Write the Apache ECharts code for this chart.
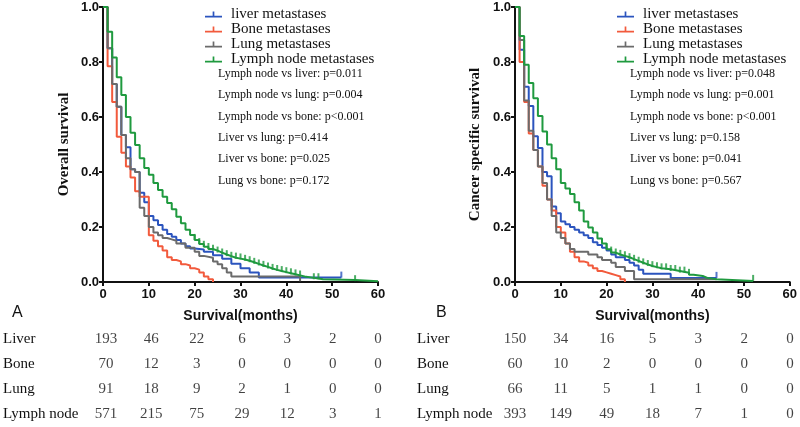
<!DOCTYPE html>
<html lang="en">
<head>
<meta charset="utf-8">
<title>Kaplan-Meier</title>
<script src="https://cdn.jsdelivr.net/npm/echarts@6/dist/echarts.min.js"></script>
<style>
    html, body { margin: 0; padding: 0; background: #fff; }
    #chart { width: 800px; height: 427px; }
</style>
</head>
<body>
<div id="chart"></div>
<script type="text/javascript">
// survival curves, [month, survival]
var osLiver = [[0,1],[1,0.85],[2,0.72],[3,0.637],[4,0.535],[5,0.49],[6,0.41],[7,0.40],[8,0.325],[9,0.29],[10,0.24],[11,0.225],[12,0.207],[13,0.19],[14,0.175],[15,0.165],[16,0.153],[17,0.14],[18,0.13],[19,0.122],[20,0.118],[22,0.11],[24,0.097],[26,0.085],[28,0.066],[30,0.05],[32,0.035],[34,0.016],[52,0.016]];
var osBone = [[0,1],[1,0.785],[2,0.655],[3,0.528],[4,0.47],[5,0.42],[6,0.38],[7,0.33],[8,0.31],[10,0.17],[11,0.15],[12,0.13],[13,0.115],[14,0.09],[15,0.08],[16,0.075],[17,0.065],[18,0.06],[19,0.05],[20,0.045],[21,0.035],[22,0.02],[23,0.01],[24,0]];
var osLung = [[0,1],[1,0.85],[2,0.72],[3,0.637],[4,0.535],[5,0.45],[6,0.41],[7,0.40],[8,0.27],[9,0.24],[10,0.2],[11,0.18],[12,0.17],[13,0.16],[14,0.155],[15,0.15],[16,0.14],[18,0.125],[20,0.11],[21,0.095],[22,0.088],[24,0.075],[25,0.065],[26,0.05],[27,0.035],[28,0.02],[41,0.02],[43,0.003]];
var osLymph = [[0,1],[1,0.91],[2,0.816],[3,0.745],[4,0.68],[5,0.60],[6,0.543],[7,0.498],[8,0.45],[9,0.415],[10,0.39],[11,0.36],[12,0.335],[13,0.31],[14,0.287],[15,0.265],[16,0.237],[17,0.214],[18,0.19],[19,0.171],[20,0.153],[21,0.138],[22,0.128],[23,0.12],[24,0.114],[25,0.107],[26,0.1],[27,0.094],[28,0.088],[29,0.085],[30,0.082],[31,0.077],[32,0.072],[33,0.066],[34,0.06],[35,0.055],[36,0.049],[37,0.044],[38,0.04],[39,0.036],[40,0.032],[41,0.028],[42,0.024],[43,0.02],[44,0.015],[46,0.01],[48,0.007],[55,0.003],[60,0.003]];

var cssLiver = [[0,1],[1,0.845],[2,0.71],[3,0.64],[4,0.53],[5,0.487],[6,0.40],[7,0.385],[8,0.275],[9,0.25],[10,0.22],[11,0.21],[12,0.2],[13,0.19],[14,0.18],[15,0.17],[16,0.16],[17,0.145],[18,0.135],[19,0.125],[20,0.115],[21,0.1],[22,0.09],[24,0.08],[25,0.07],[26,0.06],[27,0.045],[28,0.03],[34,0.015],[44,0.015]];
var cssBone = [[0,1],[1,0.80],[2,0.655],[3,0.54],[4,0.48],[5,0.42],[6,0.35],[7,0.30],[8,0.26],[9,0.2],[10,0.18],[11,0.14],[12,0.11],[13,0.09],[14,0.075],[15,0.07],[16,0.06],[17,0.05],[18,0.04],[19,0.035],[20,0.03],[21,0.025],[22,0.02],[23,0.01],[24,0]];
var cssLung = [[0,1],[1,0.88],[2,0.66],[3,0.55],[4,0.48],[5,0.42],[6,0.36],[7,0.30],[8,0.24],[9,0.18],[10,0.16],[11,0.14],[12,0.12],[13,0.11],[16,0.10],[18,0.09],[19,0.08],[21,0.07],[22,0.055],[24,0.04],[26,0.01],[44,0.01]];
var cssLymph = [[0,1],[1,0.895],[2,0.79],[3,0.724],[4,0.668],[5,0.604],[6,0.547],[7,0.50],[8,0.45],[9,0.41],[10,0.36],[11,0.34],[12,0.32],[13,0.29],[14,0.26],[15,0.22],[16,0.198],[17,0.18],[18,0.158],[19,0.14],[20,0.119],[21,0.107],[22,0.1],[23,0.095],[24,0.09],[25,0.083],[26,0.077],[27,0.07],[28,0.064],[29,0.058],[30,0.054],[31,0.05],[32,0.046],[34,0.04],[36,0.034],[38,0.026],[39,0.022],[41,0.015],[42,0.01],[44,0.004],[52,0.004]];

// censor marks (months)
var osLiverCensor = [52];
var osLymphCensor = [20,21,22,23,24,25,26,27,28,29,30,31,32,33,34,35,36,37,38,39,40,41,42,43,46,47,55];
var cssLiverCensor = [44];
var cssLymphCensor = [20,21,22,23,24,25,26,27,28,29,30,31,32,33,34,35,36,37,38,52];

var groupNames = ['liver metastases', 'Bone metastases', 'Lung metastases', 'Lymph node metastases'];
var groupColors = ['#2b54be', '#f25a3c', '#6b6b6b', '#1f9a3f'];

var pTextsA = ['Lymph node vs liver: p=0.011', 'Lymph node vs lung: p=0.004', 'Lymph node vs bone: p<0.001',
    'Liver vs lung: p=0.414', 'Liver vs bone: p=0.025', 'Lung vs bone: p=0.172'];
var pTextsB = ['Lymph node vs liver: p=0.048', 'Lymph node vs lung: p=0.001', 'Lymph node vs bone: p<0.001',
    'Liver vs lung: p=0.158', 'Liver vs bone: p=0.041', 'Lung vs bone: p=0.567'];

// numbers at risk
var riskMonths = [0, 10, 20, 30, 40, 50, 60];
var riskRows = ['Liver', 'Bone', 'Lung', 'Lymph node'];
var riskLiverA = [193, 46, 22, 6, 3, 2, 0];
var riskBoneA = [70, 12, 3, 0, 0, 0, 0];
var riskLungA = [91, 18, 9, 2, 1, 0, 0];
var riskLymphA = [571, 215, 75, 29, 12, 3, 1];
var riskLiverB = [150, 34, 16, 5, 3, 2, 0];
var riskBoneB = [60, 10, 2, 0, 0, 0, 0];
var riskLungB = [66, 11, 5, 1, 1, 0, 0];
var riskLymphB = [393, 149, 49, 18, 7, 1, 0];

var serif = '"Liberation Serif", "Times New Roman", serif';
var sans = '"Liberation Sans", Arial, sans-serif';

function survAt(curve, t) {
    var v = curve[0][1];
    for (var i = 0; i < curve.length; i++) {
        if (curve[i][0] <= t) v = curve[i][1];
    }
    return v;
}

function kmSeries(idx, data, gi) {
    return {
        name: groupNames[idx], type: 'line', step: 'end', data: data,
        xAxisIndex: gi, yAxisIndex: gi, symbol: 'none', z: 3 + idx,
        lineStyle: {color: groupColors[idx], width: 2},
        itemStyle: {color: groupColors[idx]}
    };
}

function censorSeries(idx, curve, times, gi) {
    return {
        name: 'censor' + gi + idx, type: 'scatter', xAxisIndex: gi, yAxisIndex: gi,
        data: times.map(function (t) { return [t, survAt(curve, t)]; }),
        symbol: 'rect', symbolSize: [2, 6], symbolOffset: [0, -3], z: 3 + idx,
        itemStyle: {color: groupColors[idx]}, silent: true
    };
}

function riskSeries(rows, gi) {
    var data = [];
    rows.forEach(function (vals, r) {
        vals.forEach(function (v, c) {
            data.push([riskMonths[c], riskRows[r], v]);
        });
    });
    return {
        type: 'scatter', xAxisIndex: gi, yAxisIndex: gi, data: data,
        symbolSize: 1, itemStyle: {color: 'rgba(0,0,0,0)'}, silent: true,
        label: {
            show: true, position: 'inside', color: '#111',
            fontFamily: serif, fontSize: 15,
            formatter: function (p) { return p.value[2]; }
        }
    };
}

function plotX(gi) {
    return {
        gridIndex: gi, type: 'value', min: 0, max: 60, interval: 10,
        name: 'Survival(months)', nameLocation: 'middle', nameGap: 27,
        nameTextStyle: {fontFamily: sans, fontWeight: 'bold', fontSize: 14, color: '#111'},
        axisLine: {lineStyle: {color: '#111', width: 2}},
        axisTick: {length: 4, lineStyle: {color: '#111', width: 2}},
        axisLabel: {fontFamily: sans, fontWeight: 'bold', fontSize: 13, color: '#111', margin: 6},
        splitLine: {show: false}
    };
}

function plotY(gi, name, gap) {
    return {
        gridIndex: gi, type: 'value', min: 0, max: 1, interval: 0.2,
        name: name, nameLocation: 'middle', nameGap: gap, nameRotate: 90,
        nameTextStyle: {fontFamily: serif, fontWeight: 'bold', fontSize: 15, color: '#111'},
        axisLine: {show: true, lineStyle: {color: '#111', width: 2}},
        axisTick: {show: true, length: 4, lineStyle: {color: '#111', width: 2}},
        axisLabel: {fontFamily: sans, fontWeight: 'bold', fontSize: 13, color: '#111', margin: 4,
            formatter: function (v) { return v.toFixed(1); }},
        splitLine: {show: false}
    };
}

function riskX(gi) {
    return {gridIndex: gi, type: 'value', min: 0, max: 60, show: false};
}

function riskY(gi, margin) {
    return {
        gridIndex: gi, type: 'category', data: riskRows, inverse: true,
        axisLine: {show: false}, axisTick: {show: false}, splitLine: {show: false},
        axisLabel: {align: 'left', margin: margin, fontFamily: serif, fontSize: 15, color: '#111'}
    };
}

function legendAt(left) {
    return {
        orient: 'vertical', left: left, top: 2, itemGap: 0,
        itemWidth: 17, itemHeight: 7,
        icon: 'path://M0,5 L20,5 L20,7 L0,7 Z M9,0 L11,0 L11,7 L9,7 Z',
        data: groupNames,
        textStyle: {fontFamily: serif, fontSize: 15, color: '#111', lineHeight: 15, padding: [0, 0, 0, 4]},
        selectedMode: false
    };
}

function pGraphics(texts, x) {
    return texts.map(function (t, i) {
        return {
            type: 'text', left: x, top: 68 + i * 21.3,
            style: {text: t, fontFamily: serif, fontSize: 12, fill: '#111'}
        };
    });
}

var chart = echarts.init(document.getElementById('chart'));

var series = [
    kmSeries(0, osLiver, 0), kmSeries(1, osBone, 0), kmSeries(2, osLung, 0), kmSeries(3, osLymph, 0),
    censorSeries(0, osLiver, osLiverCensor, 0), censorSeries(3, osLymph, osLymphCensor, 0),
    kmSeries(0, cssLiver, 1), kmSeries(1, cssBone, 1), kmSeries(2, cssLung, 1), kmSeries(3, cssLymph, 1),
    censorSeries(0, cssLiver, cssLiverCensor, 1), censorSeries(3, cssLymph, cssLymphCensor, 1),
    riskSeries([riskLiverA, riskBoneA, riskLungA, riskLymphA], 2),
    riskSeries([riskLiverB, riskBoneB, riskLungB, riskLymphB], 3)
];

chart.setOption({
    animation: false,
    backgroundColor: '#fff',
    grid: [
        {left: 103, top: 7, width: 275, height: 275},
        {left: 515, top: 7, width: 275, height: 275},
        {left: 103, top: 326, width: 275, height: 106},
        {left: 515, top: 326, width: 275, height: 106}
    ],
    xAxis: [plotX(0), plotX(1), riskX(2), riskX(3)],
    yAxis: [plotY(0, 'Overall survival', 31), plotY(1, 'Cancer specific survival', 32), riskY(2, 103), riskY(3, 98)],
    legend: [legendAt(200), legendAt(612)],
    graphic: pGraphics(pTextsA, 218).concat(pGraphics(pTextsB, 630)).concat([
        {type: 'text', left: 12, top: 305, style: {text: 'A', fontFamily: sans, fontSize: 16, fill: '#111'}},
        {type: 'text', left: 436, top: 305, style: {text: 'B', fontFamily: sans, fontSize: 16, fill: '#111'}}
    ]),
    series: series
});
</script>
</body>
</html>
